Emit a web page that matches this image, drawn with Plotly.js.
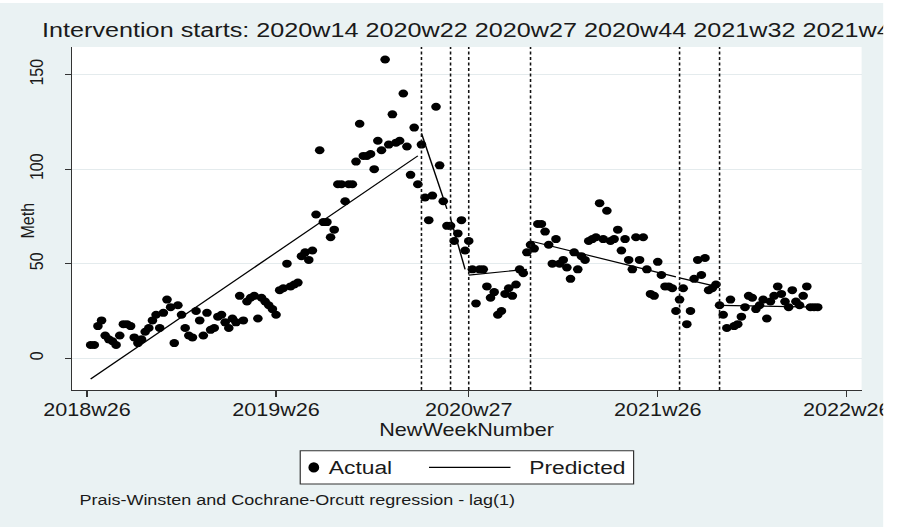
<!DOCTYPE html>
<html>
<head>
<meta charset="utf-8">
<script src="https://cdn.plot.ly/plotly-3.0.1.min.js"></script>
<style>
  html, body { margin:0; padding:0; background:#ffffff; }
  #wrap { position:absolute; left:0; top:3px; width:736px; height:524px; transform:scaleX(1.2); transform-origin:0 0; }
  #chart { width:736px; height:524px; }
</style>
</head>
<body>
<div id="wrap"><div id="chart"></div></div>
<script>
// ---- data (week index 0 = 2018w26) ----
const tickWeeks  = [0, 52, 105, 157, 209];
const tickLabels = ["2018w26", "2019w26", "2020w27", "2021w26", "2022w26"];

const interventionWeeks  = [92, 100, 105, 122, 163, 174];
const interventionLabels = ["2020w14", "2020w22", "2020w27", "2020w44", "2021w32", "2021w43"];

const firstWeek = 1;
const methActual = [
  7, 7, 17, 20, 12, 10, 9, 7, 12, 18,
  18, 17, 11, 8, 10, 14, 16, 20, 23, 16,
  24, 31, 27, 8, 28, 23, 16, 12, 11, 25,
  20, 12, 24, 15, 16, 22, 23, 19, 16, 21,
  19, 33, 20, 30, 32, 33, 21, 32, 30, 28,
  26, 23, 36, 37, 50, 38, 39, 40, 54, 56,
  52, 57, 76, 110, 72, 72, 64, 68, 92, 92,
  83, 92, 92, 104, 124, 107, 107, 108, 100, 115,
  110, 158, 113, 129, 114, 115, 140, 112, 97, 122,
  92, 113, 85, 73, 86, 133, 102, 83, 70, 70,
  62, 66, 73, 57, 62, 47, 29, 47, 47, 38,
  32, 35, 23, 25, 34, 37, 33, 39, 47, 45,
  56, 60, 58, 71, 71, 67, 60, 50, 63, 50,
  52, 48, 42, 56, 47, 54, 52, 62, 63, 64,
  82, 63, 78, 62, 63, 68, 57, 63, 52, 47,
  64, 52, 64, 47, 34, 33, 51, 44, 38, 38,
  37, 25, 31, 37, 18, 25, 42, 52, 44, 53,
  36, 37, 39, 28, 23, 16, 31, 17, 18, 22,
  27, 33, 32, 26, 28, 31, 21, 30, 33, 38,
  34, 30, 27, 36, 30, 28, 33, 38, 27, 27,
  27
];

// predicted segments (segment end points, null = break at each intervention)
const predWeeks = [1, 91, null, 92, 99, null, 100, 104, null, 105, 121, null, 122, 162, null, 163, 173, null, 174, 201];
const predMeth  = [-11, 107, null, 119, 79, null, 74, 47, null, 44, 47, null, 62, 43, null, 42.5, 38, null, 28, 27];

const seriesNames = ["Actual", "Predicted"];
const actualWeeks = methActual.map((_, i) => firstWeek + i);

const FONT = '"Liberation Sans", Arial, Helvetica, sans-serif';
const INK = '#1a1a1a';

const traces = [
  { type: 'scatter', mode: 'markers', name: seriesNames[0], x: actualWeeks, y: methActual,
    marker: { color: '#000000', size: 8 }, cliponaxis: false, showlegend: false },
  { type: 'scatter', mode: 'lines', name: seriesNames[1], x: predWeeks, y: predMeth,
    line: { color: '#000000', width: 1.2 }, connectgaps: false, showlegend: false }
];

// layout geometry (unscaled px; page is stretched 1.2x horizontally)
const W = 736, H = 524;
const mL = 60, mR = 18, mT = 44, mB = 137;
const plotW = W - mL - mR, plotH = H - mT - mB;
const pX = (ux) => (ux - mL) / plotW;
const pY = (divY) => (H - mB - divY) / plotH;

// legend key box (drawn as a key, like the Stata legend)
const key = { left: 250.2, right: 528, top: 447.7, bottom: 481, midY: 464.4,
              dotX: 261.5, textA: 272, lineL: 357.5, lineR: 425.4, textP: 438.8 };

const layout = {
  width: W, height: H,
  paper_bgcolor: '#eaf2f3', plot_bgcolor: '#ffffff',
  margin: { l: mL, r: mR, t: mT, b: mB, pad: 0 },
  font: { family: FONT, color: INK },
  showlegend: false,
  title: {
    text: 'Intervention starts: ' + interventionLabels.join(' '),
    font: { family: FONT, size: 21, color: INK },
    xref: 'container', yref: 'container', x: 35 / W, xanchor: 'left',
    y: 1 - 26.7 / H, yanchor: 'middle'
  },
  xaxis: {
    range: [-4.13, 213.07], tickmode: 'array', tickvals: tickWeeks, ticktext: tickLabels,
    ticks: 'outside', ticklen: 6, tickwidth: 1, tickcolor: '#333',
    showline: true, linecolor: '#333', linewidth: 1,
    showgrid: false, zeroline: false, ticklabeloverflow: 'allow',
    ticklabelstandoff: -3,
    tickfont: { family: FONT, size: 18, color: INK }
  },
  yaxis: {
    range: [-16.8, 164.6], tickmode: 'array', tickvals: [0, 50, 100, 150],
    tickangle: -90, ticks: 'outside', ticklen: 5, tickwidth: 1, tickcolor: '#333',
    showline: true, linecolor: '#333', linewidth: 1,
    showgrid: true, gridcolor: '#e4ebed', gridwidth: 1, zeroline: false,
    ticklabelstandoff: 12,
    tickfont: { family: FONT, size: 16, color: INK }
  },
  shapes: interventionWeeks.map(w => ({
    type: 'line', xref: 'x', yref: 'paper', x0: w, x1: w, y0: 0, y1: 1,
    line: { color: '#111111', width: 1.3, dash: '3px,2.5px' }
  })).concat([
    { type: 'rect', xref: 'paper', yref: 'paper', layer: 'above',
      x0: pX(key.left), x1: pX(key.right), y0: pY(key.bottom), y1: pY(key.top),
      fillcolor: '#ffffff', line: { color: '#333333', width: 1 } },
    { type: 'circle', xref: 'paper', yref: 'paper', xsizemode: 'pixel', ysizemode: 'pixel',
      xanchor: pX(key.dotX), yanchor: pY(key.midY), x0: -4.5, x1: 4.5, y0: -5.2, y1: 5.2,
      fillcolor: '#000000', line: { color: '#000000', width: 0 } },
    { type: 'line', xref: 'paper', yref: 'paper',
      x0: pX(key.lineL), x1: pX(key.lineR), y0: pY(key.midY), y1: pY(key.midY),
      line: { color: '#000000', width: 1.3 } }
  ]),
  annotations: [
    { text: 'NewWeekNumber', xref: 'paper', yref: 'paper', x: 0.5, y: pY(427),
      xanchor: 'center', yanchor: 'middle', showarrow: false,
      font: { family: FONT, size: 18, color: INK } },
    { text: 'Meth', xref: 'paper', yref: 'paper', x: pX(22.5), y: pY(218),
      xanchor: 'center', yanchor: 'middle', textangle: -90, showarrow: false,
      font: { family: FONT, size: 16, color: INK } },
    { text: seriesNames[0], xref: 'paper', yref: 'paper', x: pX(key.textA), y: pY(key.midY),
      xanchor: 'left', yanchor: 'middle', showarrow: false,
      font: { family: FONT, size: 19, color: INK } },
    { text: seriesNames[1], xref: 'paper', yref: 'paper', x: pX(key.textP), y: pY(key.midY),
      xanchor: 'left', yanchor: 'middle', showarrow: false,
      font: { family: FONT, size: 19, color: INK } },
    { text: 'Prais-Winsten and Cochrane-Orcutt regression - lag(1)', xref: 'paper', yref: 'paper',
      x: pX(64.1), y: pY(496.3), xanchor: 'left', yanchor: 'middle', showarrow: false,
      font: { family: FONT, size: 15, color: INK } }
  ]
};

Plotly.newPlot('chart', traces, layout, { displayModeBar: false, staticPlot: true });
</script>
</body>
</html>
